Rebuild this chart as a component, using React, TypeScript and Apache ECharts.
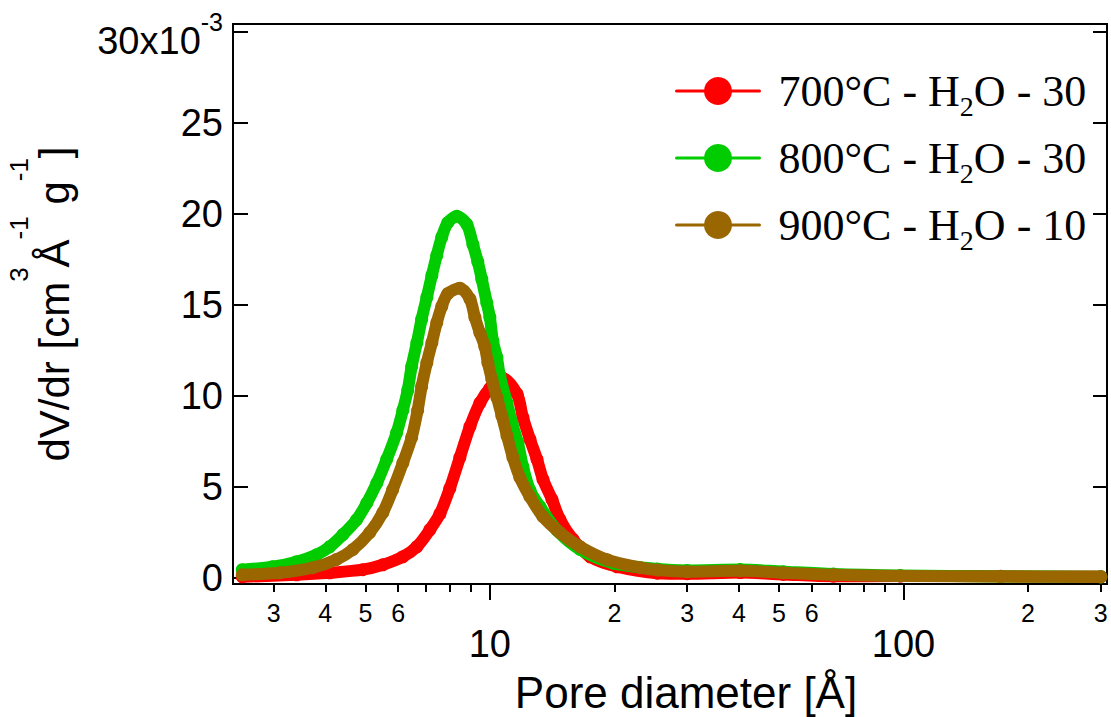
import React, { useEffect, useRef } from 'react';
import * as echarts from 'echarts';

// ---------------- data ----------------
const seriesNames = ['700°C - H2O - 30', '800°C - H2O - 30', '900°C - H2O - 10'];
const seriesColors = ['#ff0000', '#00cc00', '#996600'];

// pore diameter [Å] and dV/dr [10^-3 cm3 Å-1 g-1]
const d700 = [2.52, 3.41, 4.10, 4.93, 5.51, 6.16, 6.66, 7.16, 7.57, 8.00, 8.46, 8.95, 9.46, 10.0, 10.75, 11.63, 12.02, 12.50, 13.0, 13.44, 14.13, 14.77, 15.89, 17.47, 20.3, 25.4, 30.0, 40.3, 51.2, 67.7, 98.3, 171.8, 300];
const v700 = [0.05, 0.16, 0.27, 0.44, 0.71, 1.15, 1.7, 2.63, 3.5, 4.9, 6.6, 8.3, 9.6, 10.4, 10.95, 10.1, 8.8, 7.6, 6.5, 5.4, 4.3, 3.2, 2.1, 1.15, 0.6, 0.25, 0.22, 0.28, 0.18, 0.08, 0.09, 0.08, 0.06];

const d800 = [2.52, 2.98, 3.41, 3.81, 4.10, 4.41, 4.76, 5.04, 5.33, 5.63, 5.95, 6.16, 6.33, 6.47, 6.66, 6.84, 7.04, 7.24, 7.44, 7.65, 7.91, 8.32, 8.80, 9.10, 9.35, 9.56, 9.83, 10.0, 10.17, 10.40, 10.57, 11.0, 11.31, 11.69, 12.02, 12.50, 13.22, 14.53, 16.52, 19.86, 25.4, 30.0, 40.3, 51.2, 67.7, 98.3, 171.8, 300];
const v800 = [0.44, 0.6, 0.88, 1.26, 1.7, 2.36, 3.18, 4.1, 5.2, 6.5, 7.96, 9.2, 10.3, 11.6, 12.9, 14.2, 15.4, 16.6, 17.7, 18.7, 19.5, 19.85, 19.4, 18.3, 17.35, 16.4, 15.1, 14.3, 13.0, 12.1, 11.1, 9.6, 8.5, 7.4, 6.1, 4.8, 3.9, 2.6, 1.55, 0.8, 0.48, 0.4, 0.45, 0.33, 0.2, 0.12, 0.07, 0.05];

const d900 = [2.52, 3.10, 3.73, 4.26, 4.66, 5.12, 5.51, 5.82, 6.16, 6.47, 6.69, 6.84, 7.04, 7.24, 7.44, 7.65, 7.91, 8.46, 8.95, 9.20, 9.46, 9.72, 9.89, 10.11, 10.40, 10.69, 11.0, 11.37, 11.82, 12.50, 13.44, 14.77, 16.52, 19.2, 23.1, 25.4, 30.0, 40.3, 51.2, 67.7, 98.3, 171.8, 300];
const v900 = [0.16, 0.27, 0.55, 1.0, 1.54, 2.47, 3.57, 4.83, 6.3, 7.7, 9.2, 10.5, 11.8, 12.9, 14.0, 14.9, 15.6, 15.9, 15.3, 14.3, 13.45, 12.7, 11.8, 10.9, 9.9, 8.9, 7.8, 6.6, 5.5, 4.45, 3.35, 2.47, 1.7, 0.99, 0.55, 0.42, 0.33, 0.38, 0.27, 0.16, 0.1, 0.06, 0.04];

// axes
const xMinA = 2.393;
const xMaxA = 310.5;
const xMinorTicks = [3, 4, 5, 6, 7, 8, 9, 20, 30, 40, 50, 60, 70, 80, 90, 200, 300];
const xMinorLabelValues = [3, 4, 5, 6, 20, 30, 40, 50, 60, 200, 300];
const xMinorLabelTexts = ['3', '4', '5', '6', '2', '3', '4', '5', '6', '2', '3'];
const xMajorTicks = [10, 100];
const xMajorLabelTexts = ['10', '100'];

const yMin = -0.346;
const yMax = 30.41;
const yTickValues = [0, 5, 10, 15, 20, 25, 30];
const yTickLabels = ['0', '5', '10', '15', '20', '25', '30x10'];
const yExponentLabel = '-3';

const xTitle = 'Pore diameter [Å]';
const yTitleParts = ['dV/dr [cm', '3', 'Å', '-1', ' g', '-1', ']'];

// ---------------- chart ----------------
const SANS = "'Liberation Sans', Arial, Helvetica, sans-serif";
const SERIF = "'Liberation Serif', 'Times New Roman', Times, serif";
const lg = (d: number) => Math.log10(d);
const findIdx = (arr: number[], v: number) => arr.findIndex((t) => Math.abs(t - v) < 1e-6);

function buildOption() {
  const dataSets = [
    [d700, v700],
    [d800, v800],
    [d900, v900],
  ];
  const series = dataSets.map(([ds, vs], i) => ({
    name: seriesNames[i],
    type: 'line',
    xAxisIndex: 0,
    yAxisIndex: 0,
    data: ds.map((d, k) => [lg(d), vs[k]]),
    symbol: 'circle',
    symbolSize: 13,
    showSymbol: true,
    smooth: 0.3,
    itemStyle: { color: seriesColors[i] },
    lineStyle: { color: seriesColors[i], width: 12, cap: 'round', join: 'round' },
    emphasis: { disabled: true },
    z: 2 + i,
  }));

  const xMinorLog = xMinorLabelValues.map(lg);
  const xMajorLog = xMajorTicks.map(lg);

  const yName =
    `{a|${yTitleParts[0]}}{sup|${yTitleParts[1]}}{a|${yTitleParts[2]}}` +
    `{sup|${yTitleParts[3]}}{a|${yTitleParts[4]}}{sup|${yTitleParts[5]}}{a|${yTitleParts[6]}}`;

  return {
    animation: false,
    backgroundColor: '#ffffff',
    textStyle: { fontFamily: SANS, color: '#000' },
    grid: {
      left: 233,
      right: 4,
      top: 24,
      bottom: 133,
      show: true,
      borderColor: '#000',
      borderWidth: 2,
      backgroundColor: 'transparent',
      containLabel: false,
      outerBoundsMode: 'none',
    },
    legend: {
      show: true,
      orient: 'vertical',
      left: 675,
      top: 69,
      padding: 0,
      itemGap: 16,
      itemWidth: 83,
      itemHeight: 35,
      selectedMode: false,
      data: seriesNames,
      lineStyle: { width: 3 },
      formatter: (name: string) => {
        const [pre, post] = name.split('H2O');
        return `{a|${pre}H}{s|2}{a|O${post}}`;
      },
      textStyle: {
        color: '#000',
        fontFamily: SERIF,
        fontSize: 44,
        padding: [0, 0, 0, 14],
        rich: {
          a: { fontFamily: SERIF, fontSize: 44, lineHeight: 42, color: '#000' },
          s: { fontFamily: SERIF, fontSize: 28, lineHeight: 14, verticalAlign: 'top', padding: [22, 0, 0, 0], color: '#000' },
        },
      },
    },
    xAxis: [
      {
        type: 'value',
        position: 'bottom',
        min: lg(xMinA),
        max: lg(xMaxA),
        axisLine: { show: true, onZero: false, lineStyle: { color: '#000', width: 2 } },
        axisTick: {
          show: true,
          inside: false,
          length: 8,
          lineStyle: { color: '#000', width: 2 },
          customValues: xMinorTicks.map(lg),
        },
        axisLabel: {
          show: true,
          customValues: xMinorLog,
          hideOverlap: false,
          formatter: (v: number) => {
            const i = findIdx(xMinorLog, v);
            return i >= 0 ? xMinorLabelTexts[i] : '';
          },
          fontFamily: SANS,
          fontSize: 25,
          color: '#000',
          margin: 16,
        },
        splitLine: { show: false },
        name: xTitle,
        nameLocation: 'middle',
        nameGap: 86,
        nameTextStyle: { fontFamily: SANS, fontSize: 44, color: '#000', padding: [0, 0, 0, 32] },
      },
      {
        type: 'value',
        position: 'bottom',
        min: lg(xMinA),
        max: lg(xMaxA),
        axisLine: { show: false, onZero: false },
        axisTick: {
          show: true,
          inside: false,
          length: 16,
          lineStyle: { color: '#000', width: 2 },
          customValues: xMajorLog,
        },
        axisLabel: {
          show: true,
          customValues: xMajorLog,
          hideOverlap: false,
          formatter: (v: number) => {
            const i = findIdx(xMajorLog, v);
            return i >= 0 ? xMajorLabelTexts[i] : '';
          },
          fontFamily: SANS,
          fontSize: 38,
          color: '#000',
          margin: 41,
        },
        splitLine: { show: false },
      },
    ],
    yAxis: [
      {
        type: 'value',
        position: 'left',
        min: yMin,
        max: yMax,
        axisLine: { show: true, onZero: false, lineStyle: { color: '#000', width: 2 } },
        axisTick: {
          show: true,
          inside: true,
          length: 15,
          lineStyle: { color: '#000', width: 2 },
          customValues: yTickValues,
        },
        axisLabel: {
          show: true,
          customValues: yTickValues,
          hideOverlap: false,
          margin: 10,
          formatter: (v: number) => {
            const i = findIdx(yTickValues, v);
            if (i < 0) return '';
            if (i === yTickValues.length - 1) return `{b|${yTickLabels[i]}}{sup|${yExponentLabel}}`;
            return `{a|${yTickLabels[i]}}`;
          },
          rich: {
            a: { fontFamily: SANS, fontSize: 38, lineHeight: 38, color: '#000' },
            b: { fontFamily: SANS, fontSize: 38, lineHeight: 38, verticalAlign: 'bottom', color: '#000' },
            sup: { fontFamily: SANS, fontSize: 25, lineHeight: 57, verticalAlign: 'top', padding: [7, 0, 0, 0], color: '#000' },
          },
        },
        splitLine: { show: false },
        name: yName,
        nameLocation: 'middle',
        nameGap: 158,
        nameTextStyle: {
          fontFamily: SANS,
          fontSize: 42,
          color: '#000',
          rich: {
            a: { fontFamily: SANS, fontSize: 42, lineHeight: 42, verticalAlign: 'bottom', color: '#000' },
            sup: { fontFamily: SANS, fontSize: 26, lineHeight: 69, verticalAlign: 'top', color: '#000' },
          },
        },
      },
      {
        type: 'value',
        position: 'right',
        min: yMin,
        max: yMax,
        axisLine: { show: true, onZero: false, lineStyle: { color: '#000', width: 2 } },
        axisTick: {
          show: true,
          inside: true,
          length: 14,
          lineStyle: { color: '#000', width: 2 },
          customValues: yTickValues,
        },
        axisLabel: { show: false },
        splitLine: { show: false },
      },
    ],
    series,
  };
}

export default function App() {
  const ref = useRef<HTMLDivElement>(null);
  useEffect(() => {
    if (!ref.current) return;
    const chart = echarts.init(ref.current, null, { renderer: 'svg' });
    chart.setOption(buildOption() as any);
    return () => {
      chart.dispose();
    };
  }, []);
  return (
    <div
      ref={ref}
      style={{ position: 'fixed', left: 0, top: 0, width: 1111, height: 717, background: '#ffffff' }}
    />
  );
}
